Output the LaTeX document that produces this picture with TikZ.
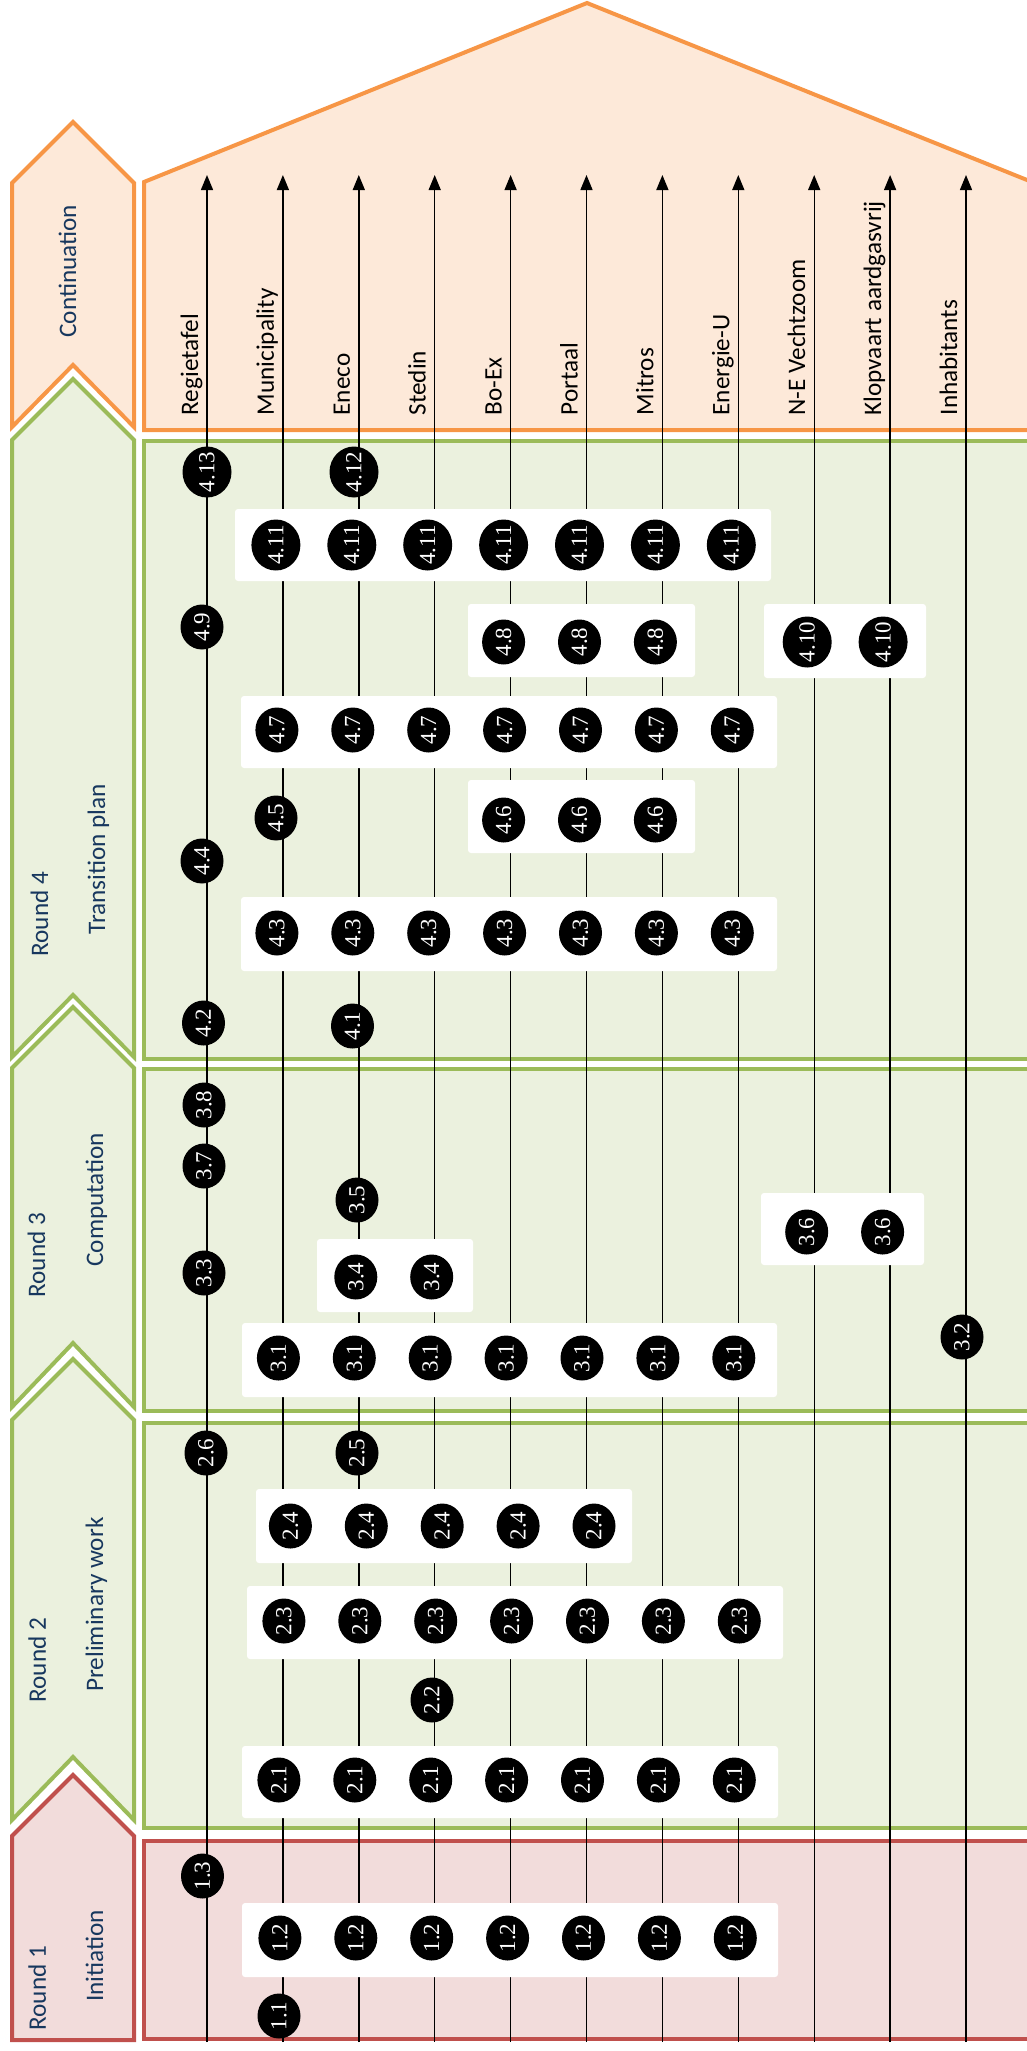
\documentclass[tikz,border=0pt]{standalone}
\usepackage{fontspec}
\setmainfont{Carlito}
\newfontfamily\numfamily{Liberation Serif}
\usetikzlibrary{arrows.meta,shapes.geometric}
\definecolor{orangex}{HTML}{F79646}
\definecolor{orangebg}{HTML}{FDE9D9}
\definecolor{greenx}{HTML}{9BBB59}
\definecolor{greenbg}{HTML}{EBF1DE}
\definecolor{redx}{HTML}{C0504D}
\definecolor{redbg}{HTML}{F2DCDB}
\definecolor{navyx}{HTML}{17375E}
\tikzset{
  orangeband/.style={line width=2pt,draw=orangex,fill=orangebg},
  greenband/.style={line width=2pt,draw=greenx,fill=greenbg},
  redband/.style={line width=2pt,draw=redx,fill=redbg},
  life/.style={-{Triangle[length=7.5pt,width=6pt]},line width=0.7pt,black},
  wbox/.style={fill=white,rounded corners=1.5pt},
  num/.style={ellipse,fill=black,text=white,rotate=90,inner sep=0pt,minimum width=22.5pt,minimum height=21.5pt,font=\fontsize{11.5}{11.5}\numfamily},
  numw/.style={num,inner xsep=-1.5pt,minimum width=25.5pt,minimum height=24.5pt},
  actor/.style={rotate=90,anchor=base west,inner sep=0pt,font=\fontsize{12.6}{15}\selectfont},
  phase/.style={actor,text=navyx}
}
\begin{document}
\begin{tikzpicture}[x=0.5pt,y=-0.5pt]
\useasboundingbox (0,0) rectangle (1027,2051);
\clip (0,0) rectangle (1027,2051);
% phase bands
\filldraw[orangeband] (144,430) -- (144,182) -- (587,3) -- (1032,182) -- (1032,430) -- cycle;
\filldraw[greenband] (143.5,441) rectangle (1040,1059);
\filldraw[greenband] (143.5,1069) rectangle (1040,1411);
\filldraw[greenband] (143.5,1423) rectangle (1040,1828);
\filldraw[redband] (143.5,1841) rectangle (1040,2039);
% chevrons
\filldraw[orangeband] (12,427) -- (12,183) -- (73,122) -- (134,183) -- (134,427) -- (73,365) -- cycle;
\filldraw[greenband] (12,1057) -- (12,440) -- (73,379) -- (134,440) -- (134,1057) -- (73,995) -- cycle;
\filldraw[greenband] (12,1407) -- (12,1068) -- (73,1007) -- (134,1068) -- (134,1407) -- (73,1343) -- cycle;
\filldraw[greenband] (12,1820) -- (12,1420) -- (73,1359) -- (134,1420) -- (134,1820) -- (73,1757) -- cycle;
\filldraw[redband] (12,2040) -- (12,1836) -- (73,1775) -- (134,1836) -- (134,2040) -- cycle;
\node[phase] (cont) at (76,338) {Continuation};
\node[phase] (r4) at (48,957) {Round 4};
\node[phase] (r4t) at (105,935) {Transition plan};
\node[phase] (r3) at (45,1298) {Round 3};
\node[phase] (r3t) at (103,1267) {Computation};
\node[phase] (r2) at (46,1703) {Round 2};
\node[phase] (r2t) at (103,1692) {Preliminary work};
\node[phase] (r1) at (46,2031) {Round 1};
\node[phase] (r1t) at (103,2002) {Initiation};
% actor lines
\foreach \name [count=\i from 0] in {Regietafel,Municipality,Eneco,Stedin,Bo-Ex,Portaal,Mitros,Energie-U,N-E Vechtzoom,Klopvaart aardgasvrij,Inhabitants}{
  \coordinate (foot\i) at ({207+75.9*\i},2042);
  \coordinate (tip\i) at ({207+75.9*\i},175);
  \draw[life] (foot\i) -- (tip\i);
  \node[actor] (lab\i) at ({198+75.9*\i},415.7) {\name};
}
% white boxes
\fill[wbox] (235,509) rectangle (771,581);
\fill[wbox] (468,604) rectangle (695,677);
\fill[wbox] (764,604) rectangle (926,678);
\fill[wbox] (241,696) rectangle (777,768);
\fill[wbox] (468,780) rectangle (695,853);
\fill[wbox] (241,897) rectangle (777,971);
\fill[wbox] (761,1193) rectangle (924,1265);
\fill[wbox] (317,1239) rectangle (473,1312);
\fill[wbox] (242,1323) rectangle (777,1397);
\fill[wbox] (256,1489) rectangle (632,1563);
\fill[wbox] (247,1586) rectangle (783,1659);
\fill[wbox] (242,1746) rectangle (778,1818);
\fill[wbox] (242,1903) rectangle (778,1977);
% round 4
\node[numw] (n413) at (207,472) {4.13};
\node[numw] (n412) at (354,472) {4.12};
\foreach \c in {1,...,7} \node[numw] (n411-\c) at ({200+75.9*\c},545) {4.11};
\node[num] (n49) at (202,627) {4.9};
\foreach \c in {4,5,6} \node[num] (n48-\c) at ({200+75.9*\c},642) {4.8};
\foreach \c in {8,9} \node[numw] (n410-\c) at ({200+75.9*\c},642) {4.10};
\foreach \c in {1,...,7} \node[num] (n47-\c) at ({201+75.9*\c},730) {4.7};
\node[num] (n45) at (276,818) {4.5};
\foreach \c in {4,5,6} \node[num] (n46-\c) at ({200+75.9*\c},820) {4.6};
\node[num] (n44) at (202,861) {4.4};
\foreach \c in {1,...,7} \node[num] (n43-\c) at ({201+75.9*\c},933) {4.3};
\node[num] (n42) at (203.5,1023) {4.2};
\node[num] (n41) at (352.5,1026) {4.1};
% round 3
\node[num] (n38) at (204,1105) {3.8};
\node[num] (n37) at (204,1166) {3.7};
\node[num] (n35) at (357,1200) {3.5};
\foreach \c in {8,9} \node[num] (n36-\c) at ({199.5+75.9*\c},1232) {3.6};
\node[num] (n33) at (204,1273) {3.3};
\foreach \c in {2,3} \node[num] (n34-\c) at ({204+75.9*\c},1277) {3.4};
\node[num] (n32) at (962,1337) {3.2};
\foreach \c in {1,...,7} \node[num] (n31-\c) at ({202.5+75.9*\c},1358) {3.1};
% round 2
\node[num] (n26) at (206,1453) {2.6};
\node[num] (n25) at (357,1453) {2.5};
\foreach \c in {1,...,5} \node[num] (n24-\c) at ({214.5+75.9*\c},1526) {2.4};
\foreach \c in {1,...,7} \node[num] (n23-\c) at ({208+75.9*\c},1621) {2.3};
\node[num] (n22) at (432,1700) {2.2};
\foreach \c in {1,...,7} \node[num] (n21-\c) at ({203+75.9*\c},1780) {2.1};
% round 1
\node[num] (n13) at (202.5,1876) {1.3};
\foreach \c in {1,...,7} \node[num] (n12-\c) at ({204+75.9*\c},1938) {1.2};
\node[num] (n11) at (279,2016) {1.1};
\end{tikzpicture}
\end{document}
